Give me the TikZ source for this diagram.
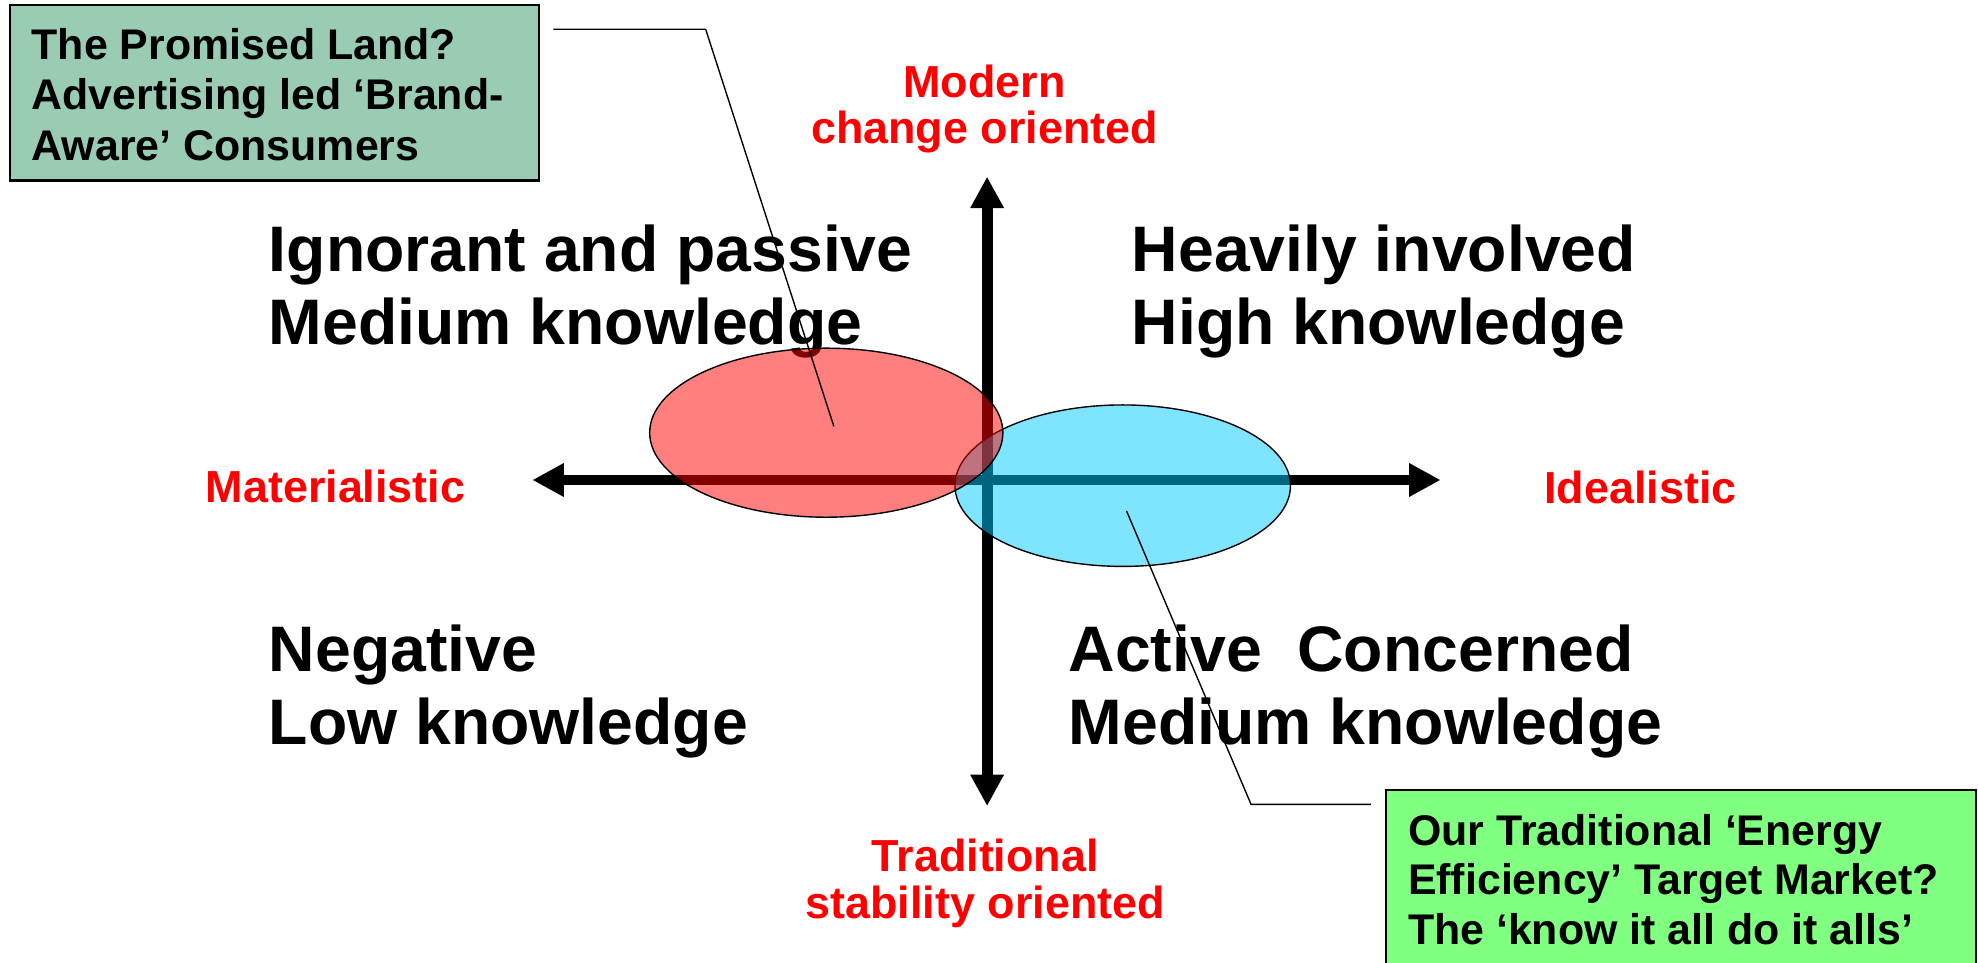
\documentclass[tikz,border=0pt]{standalone}
\usepackage{fontspec}
\setmainfont{Liberation Sans}
\usetikzlibrary{arrows.meta}
\definecolor{boxgreen}{RGB}{153,204,179}
\definecolor{litegreen}{RGB}{128,255,128}
\definecolor{ellcyan}{RGB}{0,204,255}
\tikzset{
  quad/.style={font=\bfseries\fontsize{51}{58}\selectfont, anchor=base west, inner sep=0pt},
  axlab/.style={font=\bfseries\fontsize{35.6}{38}\selectfont, text=red, anchor=base, inner sep=0pt},
  boxtext/.style={font=\bfseries\fontsize{34}{40}\selectfont, anchor=base west, inner sep=0pt},
  axis/.style={line width=8.7pt, -{Triangle[width=25pt,length=25pt]}},
  callout/.style={draw=black, line width=1.8pt},
  leader/.style={draw=black, line width=1.1pt},
  ell/.style={draw=black, line width=1.1pt, fill opacity=0.5}
}
\begin{document}
\begin{tikzpicture}[x=1pt,y=-1pt]
\useasboundingbox (0,0) rectangle (1568,762.6);
% quadrant texts
\node[quad] (q1a) at (213,215) {Ignorant and passive};
\node[quad] (q1b) at (213,273) {Medium knowledge};
\node[quad] (q2a) at (897,215) {Heavily involved};
\node[quad] (q2b) at (897,273) {High knowledge};
\node[quad] (q3a) at (213,532) {Negative};
\node[quad] (q3b) at (213,590) {Low knowledge};
\node[quad] (q4a) at (847,532) {Active\ \ Concerned};
\node[quad] (q4b) at (847,590) {Medium knowledge};
% axis labels
\node[axlab] (m1) at (780.5,77) {Modern};
\node[axlab] (m2) at (780.5,114) {change oriented};
\node[axlab] (t1) at (781,691) {Traditional};
\node[axlab] (t2) at (781,728) {stability oriented};
\node[axlab] (ml) at (266,398) {Materialistic};
\node[axlab] (il) at (1300.5,399) {Idealistic};
% axes
\coordinate (c) at (782.5,380.5);
\coordinate (top) at (782.5,140);
\coordinate (bot) at (782.5,639);
\coordinate (lft) at (422,380.5);
\coordinate (rgt) at (1142,380.5);
\draw[axis] (c) -- (top);
\draw[axis] (c) -- (bot);
\draw[axis] (c) -- (lft);
\draw[axis] (c) -- (rgt);
% ellipses
\path[ell, fill=ellcyan] (890,385) ellipse [x radius=133, y radius=64];
\path[ell, fill=red] (655,343) ellipse [x radius=140, y radius=67];
% callout boxes
\path[callout, fill=boxgreen] (8,4) rectangle (427,143);
\node[boxtext] (b1a) at (25,47) {The Promised Land?};
\node[boxtext] (b1b) at (25,87) {Advertising led ‘Brand-};
\node[boxtext] (b1c) at (25,127) {Aware’ Consumers};
\path[callout, fill=litegreen] (1098.7,626.2) rectangle (1566.5,800);
\node[boxtext] (b2a) at (1116,670) {Our Traditional ‘Energy};
\node[boxtext] (b2b) at (1116,709) {Efficiency’ Target Market?};
\node[boxtext] (b2c) at (1116,749) {The ‘know it all do it alls’};
% leaders
\coordinate (l1s) at (438.6,23.2);
\coordinate (l1k) at (559.4,23.2);
\coordinate (l1e) at (661,338);
\coordinate (l2s) at (893,405);
\coordinate (l2k) at (991.7,637.6);
\coordinate (l2e) at (1086.8,637.6);
\draw[leader] (l1s) -- (l1k) -- (l1e);
\draw[leader] (l2s) -- (l2k) -- (l2e);
\end{tikzpicture}
\end{document}
